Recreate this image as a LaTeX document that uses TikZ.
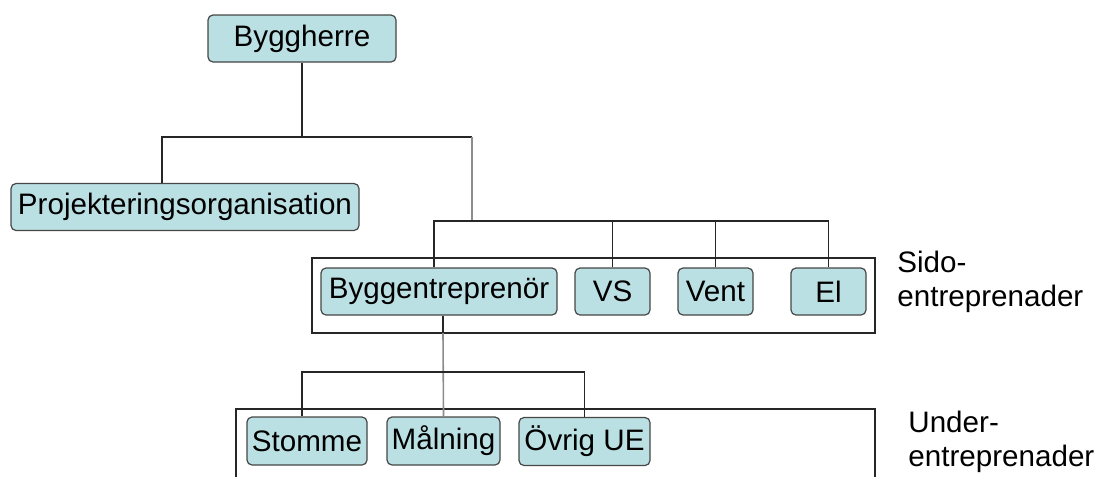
\documentclass[tikz,border=0pt]{standalone}
\usepackage{fontspec}
\setmainfont{Liberation Sans}
\usepackage{tikz}
\usetikzlibrary{positioning, calc}
\definecolor{OrgFill}{RGB}{187, 224, 227}
\definecolor{OrgLine}{RGB}{70, 70, 70}

\begin{document}
\begin{tikzpicture}[
    x=0.5pt, y=-0.5pt,
    orgbox/.style={rectangle, rounded corners=2.5pt, draw=OrgLine, fill=OrgFill,
                   line width=0.6pt, inner sep=0pt, minimum height=23.5pt,
                   font=\fontsize{14.8}{17}\selectfont},
    frame/.style={draw=black!85, line width=0.65pt},
    tree/.style={draw=black!85, line width=0.8pt},
    treegrey/.style={draw=black!45, line width=0.8pt},
    side/.style={align=left, anchor=west, inner sep=0pt,
                 font=\fontsize{14.8}{17}\selectfont}
]
\useasboundingbox (0,0) rectangle (1096,477);

% Frames
\draw[frame] (312,258) rectangle (875,333);
\draw[frame] (236,477) |- (875,409) -- (875,477);

% Top level
\node[orgbox, minimum width=94pt] (byggherre) at (302,38.5) {Byggherre};
\node[orgbox, minimum width=174pt] (projekt) at (185,207) {Projekteringsorganisation};

% Sidoentreprenader
\node[orgbox, minimum width=118pt] (bygg) at (439,291.5) {Byggentreprenör};
\node[orgbox, minimum width=37.5pt] (vs) at (612.5,291.5) {VS};
\node[orgbox, minimum width=37.5pt] (vent) at (715.5,291.5) {Vent};
\node[orgbox, minimum width=37.5pt] (el) at (828.5,291.5) {El};

% Underentreprenader
\node[orgbox, minimum width=60pt, minimum height=24pt] (stomme) at (307,441) {Stomme};
\node[orgbox, minimum width=56.5pt, minimum height=24pt] (malning) at (443.5,441) {Målning};
\node[orgbox, minimum width=65.5pt, minimum height=24pt] (ovrig) at (584.5,441.5) {Övrig UE};

% Side labels
\node[side] (sido) at (897,282) {Sido-\\entreprenader};
\node[side] (under) at (908,442) {Under-\\entreprenader};

% Junctions
\coordinate (jTop) at (302,137);
\coordinate (jTopL) at (162,137);
\coordinate (jTopR) at (472,137);
\coordinate (jSido) at (472,221);
\coordinate (jSidoL) at (434,221);
\coordinate (jUnder) at (443,333);
\coordinate (jUnderL) at (302,372);

% Connectors
\draw[tree] (byggherre.south) -- (jTop);
\draw[tree] (projekt.north -| jTopL) -- (jTopL) -- (jTopR);
\draw[treegrey] (jTopR) -- (jSido);
\draw[tree] (bygg.north -| jSidoL) -- (jSidoL) -| (el.north);
\draw[tree] (vs.north) -- (vs.north |- jSidoL);
\draw[tree] (vent.north) -- (vent.north |- jSidoL);
\draw[tree] (bygg.south -| jUnder) -- (jUnder);
\draw[treegrey] (jUnder) -- (malning.north);
\draw[tree] (stomme.north -| jUnderL) -- (jUnderL) -| (ovrig.north);

\end{tikzpicture}
\end{document}
